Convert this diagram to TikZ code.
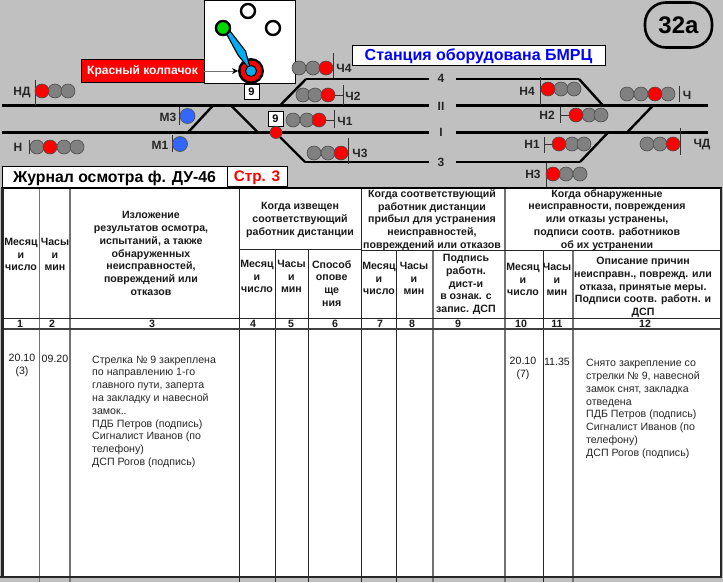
\documentclass[tikz,border=0pt]{standalone}
\usepackage{fontspec}
\setmainfont{Liberation Sans}
\usetikzlibrary{arrows.meta,positioning,shapes.geometric,calc}
\definecolor{panelgray}{HTML}{C0C0C0}
\definecolor{lampgray}{HTML}{808080}
\definecolor{capblue}{HTML}{3366FF}
\tikzset{
  track/.style={line width=2.4pt,black},
  post/.style={line width=0.8pt,black!80},
  lamp/.style={circle,draw=black!70,fill=lampgray,line width=0.6pt,minimum size=14pt,inner sep=0pt},
  redlamp/.style={lamp,fill=red},
  bluelamp/.style={lamp,fill=capblue,minimum size=15pt},
  ring/.style={circle,draw=black,fill=white,line width=2.4pt,minimum size=14pt,inner sep=0pt},
  knobstyle/.style={circle,draw=black,fill=green!85!black,line width=2.2pt,minimum size=14pt,inner sep=0pt},
  siglabel/.style={font=\fontsize{12}{13}\selectfont\bfseries,black!85,inner sep=0pt},
  headtxt/.style={font=\fontsize{10.6}{12.8}\selectfont\bfseries,align=center,inner sep=0pt,black!90},
  entrytxt/.style={headtxt,font=\fontsize{10.6}{12.8}\selectfont},
  bodytxt/.style={font=\fontsize{10.6}{12.8}\selectfont,align=left,anchor=north west,inner sep=0pt,black!85},
  gridthick/.style={line width=1.6pt,black!55},
  gridthin/.style={line width=1pt,black!85},
  tag/.style={draw=black,fill=white,line width=0.7pt,inner sep=0pt,font=\fontsize{11}{12}\selectfont\bfseries,minimum width=15pt,minimum height=15pt},
}
\begin{document}
\begin{tikzpicture}[x=1pt,y=-1pt]
\useasboundingbox (0,0) rectangle (723,582);
\fill[panelgray] (0,0) rectangle (723,582);
% Tracks
\foreach \x/\y/\u/\v in {306/79/429/79, 456/79/579/79, 2/105.5/429/105.5, 456/105.5/708/105.5,
  2/132.5/429/132.5, 456/132.5/708/132.5, 305/162/429/162, 456/162/580/162,
  280/105.5/306/79, 213/105.5/188/132.5, 231/105.5/258/132.5, 280/137/305/162,
  579/79/603/105.5, 653/105.5/627/132.5, 608/132.5/580/162} {
  \draw[track] (\x,\y) -- (\u,\v);
}
\foreach \n/\x/\y/\t in {trk4/441/78/4, trkB/441/106/II, trkA/441/132/I, trk3/441/162/3} {
  \node[siglabel] (\n) at (\x,\y) {\t};
}
% Switch panel with the red cap
\node[draw=black,fill=white,line width=0.7pt,minimum width=91pt,minimum height=83pt,inner sep=0pt] (panel) at (249.5,41.5) {};
\node[ring] (ringtop) at (248,11) {};
\node[ring] (ringright) at (273,28) {};
\node[circle,draw=black,fill=red,line width=2.4pt,minimum size=23.5pt,inner sep=0pt] (cap) at (251,71) {};
\node[knobstyle] (knob) at (223,28) {};
\draw[black,fill=cyan,line width=1.1pt] (226,33) -- (230,31) -- (245.5,51) -- (cap.center) -- (238,55) -- cycle;
\node[knobstyle] at (knob) {};
\node[circle,draw=black,fill=cyan,line width=0.9pt,minimum size=11pt,inner sep=0pt] (capcore) at (cap) {};
\node[draw=black,fill=red,line width=0.7pt,minimum width=123pt,minimum height=23pt,inner sep=0pt,
  font=\fontsize{12}{13}\selectfont\bfseries,text=white] (caplabel) at (142.5,71) {Красный колпачок};
\draw[-{Stealth[black,length=6pt,width=6pt]},black!55,line width=1pt] (caplabel.east) -- (cap.west);
\node[tag] (tagup) at (251.5,91.5) {9};
\node[tag] (tagsw) at (275.5,119) {9};
% Signal posts
\foreach \x/\y/\v in {35/80/105, 29/140/154, 179.5/107/125, 172/135/152, 333/53/78, 343/85/105,
  334/110/128, 348/138/164, 679/86/102, 680/128/155, 540/77/105, 560/107/123, 544/137/153, 546/163/190} {
  \draw[post] (\x,\y) -- (\x,\v);
}
\foreach \x/\y/\u in {29/147/36, 334/95/343, 325/120/334, 560/115/570, 544/144/553} {
  \draw[post] (\x,\y) -- (\u,\y);
}
% Gray lamps
\foreach \n/\x/\y in {nd2/55/91, nd3/68/91, n1/37/147, n3/64/147, n4/77/147, chf1/299/68, chf2/313/68,
  chb1/303/95, chb2/315/95, cha1/293/120, cha2/307/120, chc1/314/153, chc2/328/153,
  ch1/627/94, ch2/641/94, ch4/668/94, chd1/647/144, chd2/660/144,
  nf2/561/89, nf3/574/89, nb2/589/115, nb3/601/115, na2/572/144, na3/584/144, nc2/566/174, nc3/580/174} {
  \node[lamp] (\n) at (\x,\y) {};
}
% Red lamps
\foreach \n/\x/\y in {nd1/42/91, n2/50/147, chf3/326/68, chb3/328/95, cha3/319/120, chc3/341/153,
  ch3/655/94, chd3/673/144, nf1/548/89, nb1/576/115, na1/559/144, nc1/553/174} {
  \node[redlamp] (\n) at (\x,\y) {};
}
\node[redlamp,minimum size=12pt] (swred) at (276,132.5) {};
% Blue lamps
\node[bluelamp] (mthree) at (187.5,116) {};
\node[bluelamp] (mone) at (180,144) {};
% Signal names
\foreach \n/\x/\y/\t in {lnd/22/93/НД, ln/18/147/Н, lmc/168/117/М3, lma/160/145/М1, lchf/344/68/Ч4, lchb/353/96/Ч2,
  lcha/345/121/Ч1, lchc/360/153/Ч3, lch/687/95/Ч, lchd/702/145/ЧД, lnf/527/91/Н4, lnb/547/115/Н2,
  lna/532/144/Н1, lnc/533/174/Н3} {
  \node[siglabel] (\n) at (\x,\y) {\t};
}
% Headings
\node[draw=black,fill=white,line width=0.7pt,minimum width=253pt,minimum height=20pt,inner sep=0pt,
  text height=11.5pt,text depth=0pt,
  font=\fontsize{16}{18}\selectfont\bfseries,text=blue] (station) at (478.5,55) {Станция оборудована БМРЦ};
\node[rounded corners=21pt,draw=black,line width=2.6pt,minimum width=67pt,minimum height=45pt,inner sep=0pt,
  font=\fontsize{24}{26}\selectfont\bfseries] (badge) at (678.5,25) {32а};
\node[draw=black,fill=white,line width=0.7pt,minimum width=225pt,minimum height=22pt,inner sep=0pt,
  text height=11pt,text depth=0pt,
  font=\fontsize{15.8}{18}\selectfont\bfseries] (journal) at (114.5,177) {Журнал осмотра ф. ДУ-46};
\node[draw=black,fill=white,line width=0.7pt,minimum width=60pt,minimum height=20pt,inner sep=0pt,
  text height=11pt,text depth=0pt,
  font=\fontsize{15.3}{18}\selectfont\bfseries,text=red] (page) at (257,176) {Стр. 3};
% Table
\fill[white] (2,188) rectangle (721,577);
\foreach \x/\y in {39.5/188, 70/188, 433/250, 505/188, 573/250} {
  \draw[gridthick] (\x,\y) -- (\x,582);
}
\foreach \x/\y in {239/188, 275/249, 308/249, 361.5/188, 396/250, 543/250} {
  \draw[gridthin] (\x,\y) -- (\x,582);
}
\draw[gridthin] (239,249) -- (361.5,249);
\draw[gridthin] (361.5,250) -- (721,250);
\draw[gridthin] (2,318) -- (721,318);
\draw[line width=2pt,black!75] (2,329) -- (721,329);
\draw[line width=2pt,black] (1,188) -- (722,188);
\draw[line width=2.4pt,black!85] (721,188) -- (721,577);
\draw[line width=2.4pt,black!85] (0,577) -- (722,577);
\draw[line width=3pt,black!85] (2,188) -- (2,578);
% Column heads
\foreach \n/\x/\y/\t in {ha/21/254.5/{Месяц\\и\\число}, hb/55/254.5/{Часы\\и\\мин},
  hc/151/253.5/{Изложение\\результатов осмотра,\\испытаний, а также\\обнаруженных\\неисправностей,\\повреждений или\\отказов},
  hd/300/220/{Когда извещен\\соответствующий\\работник дистанции},
  hda/257/276.5/{Месяц\\и\\число}, hdb/291.5/276.5/{Часы\\и\\мин}, hdc/331.7/283.5/{Способ\\опове\\ще\\ния},
  he/432/220/{Когда соответствующий\\работник дистанции\\прибыл для устранения\\неисправностей,\\повреждений или отказов},
  hea/379/278.5/{Месяц\\и\\число}, heb/414/278.5/{Часы\\и\\мин},
  hec/466/284.5/{Подпись\\работн.\\дист-и\\в ознак. с\\запис. ДСП},
  hf/607/220/{Когда обнаруженные\\неисправности, повреждения\\или отказы устранены,\\подписи соотв. работников\\об их устранении},
  hfa/523/279.5/{Месяц\\и\\число}, hfb/557/279.5/{Часы\\и\\мин},
  hfc/643/287.5/{Описание причин\\неисправн., поврежд. или\\отказа, принятые меры.\\Подписи соотв. работн. и\\ДСП}} {
  \node[headtxt] (\n) at (\x,\y) {\t};
}
% Column numbers
\foreach \i/\x in {1/20, 2/52, 3/152, 4/253, 5/291, 6/335, 7/380, 8/412, 9/458, 10/521, 11/557, 12/645} {
  \node[headtxt] (num\i) at (\x,324) {\i};
}
% Entries
\node[entrytxt] (datea) at (22,365.5) {20.10\\(3)};
\node[entrytxt] (timea) at (55,359) {09.20};
\node[bodytxt] (texta) at (92,355.5) {Стрелка № 9 закреплена\\по направлению 1-го\\главного пути, заперта\\на закладку и навесной\\замок..\\ПДБ Петров (подпись)\\Сигналист Иванов (по\\телефону)\\ДСП Рогов (подпись)};
\node[entrytxt] (dateb) at (523,368) {20.10\\(7)};
\node[entrytxt] (timeb) at (557,361.5) {11.35};
\node[bodytxt] (textb) at (586,359) {Снято закрепление со\\стрелки № 9, навесной\\замок снят, закладка\\отведена\\ПДБ Петров (подпись)\\Сигналист Иванов (по\\телефону)\\ДСП Рогов (подпись)};
\end{tikzpicture}
\end{document}
